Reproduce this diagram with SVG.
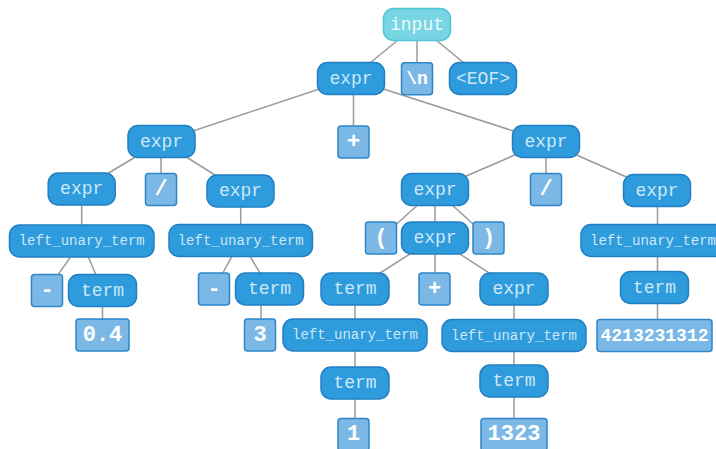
<svg xmlns="http://www.w3.org/2000/svg" width="716" height="449" viewBox="0 0 716 449">
  <style>
    .edge { stroke: #9a9a9a; stroke-width: 1.5; fill: none; }
    .rule rect { fill: #2e9cdc; stroke: #2280c2; stroke-width: 1.5; }
    .rule text { fill: #cde7f7; font-family: "Liberation Mono", "Courier New", monospace; font-size: 18px; text-anchor: middle; dominant-baseline: central; }
    .rule text.small { font-size: 14px; }
    .root rect { fill: #78d5e3; stroke: #52c5d8; }
    .root text { fill: #eefafc; }
    .tok rect { fill: #7cb8e6; stroke: #2c86c9; stroke-width: 1.5; }
    .tok text { fill: #ffffff; font-family: "Liberation Mono", "Courier New", monospace; font-weight: bold; font-size: 22px; text-anchor: middle; dominant-baseline: central; }
    .tok text.mid { font-size: 18px; }
  </style>

  <!-- connectors run between node centres and sit under the nodes -->
  <g id="edges">
    <line class="edge" x1="417" y1="24.5" x2="351" y2="78.5"/>
    <line class="edge" x1="417" y1="24.5" x2="417" y2="78.8"/>
    <line class="edge" x1="417" y1="24.5" x2="483" y2="78.5"/>

    <line class="edge" x1="351" y1="78.5" x2="161.5" y2="141.5"/>
    <line class="edge" x1="353.5" y1="78.5" x2="353.5" y2="142"/>
    <line class="edge" x1="351" y1="78.5" x2="546" y2="141.5"/>

    <line class="edge" x1="161.5" y1="141.5" x2="81.7" y2="189"/>
    <line class="edge" x1="161" y1="141.5" x2="161" y2="189.5"/>
    <line class="edge" x1="161.5" y1="141.5" x2="240.5" y2="191"/>

    <line class="edge" x1="81.7" y1="189" x2="81.7" y2="241"/>
    <line class="edge" x1="81.7" y1="241" x2="47" y2="290.5"/>
    <line class="edge" x1="81.7" y1="241" x2="102.5" y2="290.5"/>
    <line class="edge" x1="102.5" y1="290.5" x2="102.5" y2="335"/>

    <line class="edge" x1="240.7" y1="191" x2="240.7" y2="240.5"/>
    <line class="edge" x1="240.7" y1="240.5" x2="214" y2="289"/>
    <line class="edge" x1="240.7" y1="240.5" x2="269.5" y2="289"/>
    <line class="edge" x1="261" y1="289" x2="261" y2="335"/>

    <line class="edge" x1="546" y1="141.5" x2="435" y2="189.5"/>
    <line class="edge" x1="546" y1="141.5" x2="546" y2="189.5"/>
    <line class="edge" x1="546" y1="141.5" x2="657" y2="190.5"/>

    <line class="edge" x1="435" y1="189.5" x2="381" y2="238"/>
    <line class="edge" x1="435" y1="189.5" x2="435" y2="238"/>
    <line class="edge" x1="435" y1="189.5" x2="488.5" y2="238"/>

    <line class="edge" x1="435" y1="238" x2="355" y2="289"/>
    <line class="edge" x1="435" y1="238" x2="435" y2="289"/>
    <line class="edge" x1="435" y1="238" x2="514" y2="289"/>

    <line class="edge" x1="355" y1="289" x2="355" y2="434"/>
    <line class="edge" x1="514" y1="289" x2="514" y2="434"/>
    <line class="edge" x1="657.5" y1="190.5" x2="657.5" y2="335.5"/>
  </g>

  <!-- level 0 -->
  <g id="n-input" class="rule root"><rect x="383.5" y="8.5" width="67" height="32" rx="10"/><text x="417" y="24.5">input</text></g>

  <!-- level 1 -->
  <g id="n-expr0" class="rule"><rect x="317.5" y="62.5" width="67" height="32" rx="10"/><text x="351" y="78.5">expr</text></g>
  <g id="n-newline" class="tok"><rect x="401.5" y="62.8" width="31" height="32" rx="3"/><text class="mid" x="417" y="78.8">\n</text></g>
  <g id="n-eof" class="rule"><rect x="449.5" y="62.5" width="67" height="32" rx="10"/><text x="483" y="78.5">&lt;EOF&gt;</text></g>

  <!-- level 2 -->
  <g id="n-expr-l1" class="rule"><rect x="128" y="125.5" width="67" height="32" rx="10"/><text x="161.5" y="141.5">expr</text></g>
  <g id="n-plus1" class="tok"><rect x="338" y="126" width="31" height="32" rx="3"/><text x="353.5" y="142">+</text></g>
  <g id="n-expr-r1" class="rule"><rect x="512.5" y="125.5" width="67" height="32" rx="10"/><text x="546" y="141.5">expr</text></g>

  <!-- level 3 -->
  <g id="n-expr-l2a" class="rule"><rect x="48.2" y="173" width="67" height="32" rx="10"/><text x="81.7" y="189">expr</text></g>
  <g id="n-div1" class="tok"><rect x="145.5" y="173.5" width="31" height="32" rx="3"/><text x="161" y="189.5">/</text></g>
  <g id="n-expr-l2b" class="rule"><rect x="207" y="175" width="67" height="32" rx="10"/><text x="240.5" y="191">expr</text></g>
  <g id="n-expr-m2" class="rule"><rect x="401.5" y="173.5" width="67" height="32" rx="10"/><text x="435" y="189.5">expr</text></g>
  <g id="n-div2" class="tok"><rect x="530.5" y="173.5" width="31" height="32" rx="3"/><text x="546" y="189.5">/</text></g>
  <g id="n-expr-r2" class="rule"><rect x="623.5" y="174.5" width="67" height="32" rx="10"/><text x="657" y="190.5">expr</text></g>

  <!-- level 4 -->
  <g id="n-lut-l3a" class="rule"><rect x="9.5" y="225" width="144.5" height="32" rx="10"/><text class="small" x="81.7" y="241">left_unary_term</text></g>
  <g id="n-lut-l3b" class="rule"><rect x="169" y="224.5" width="143.5" height="32" rx="10"/><text class="small" x="240.7" y="240.5">left_unary_term</text></g>
  <g id="n-lparen" class="tok"><rect x="365.5" y="222" width="31" height="32" rx="3"/><text x="381" y="238">(</text></g>
  <g id="n-expr-m3" class="rule"><rect x="401.5" y="222" width="67" height="32" rx="10"/><text x="435" y="238">expr</text></g>
  <g id="n-rparen" class="tok"><rect x="473" y="222" width="31" height="32" rx="3"/><text x="488.5" y="238">)</text></g>
  <g id="n-lut-r3" class="rule"><rect x="581" y="224.5" width="144.5" height="32" rx="10"/><text class="small" x="653" y="240.5">left_unary_term</text></g>

  <!-- level 5 -->
  <g id="n-minus1" class="tok"><rect x="31.5" y="274.5" width="31" height="32" rx="3"/><text x="47" y="290.5">-</text></g>
  <g id="n-term-a" class="rule"><rect x="68.5" y="274.5" width="68" height="32" rx="10"/><text x="102.5" y="290.5">term</text></g>
  <g id="n-minus2" class="tok"><rect x="198.5" y="273" width="31" height="32" rx="3"/><text x="214" y="289">-</text></g>
  <g id="n-term-b" class="rule"><rect x="235.5" y="273" width="68" height="32" rx="10"/><text x="269.5" y="289">term</text></g>
  <g id="n-term-m4a" class="rule"><rect x="321" y="273" width="68" height="32" rx="10"/><text x="355" y="289">term</text></g>
  <g id="n-plus2" class="tok"><rect x="419" y="273" width="31" height="32" rx="3"/><text x="434.5" y="289">+</text></g>
  <g id="n-expr-m4c" class="rule"><rect x="480" y="273" width="68" height="32" rx="10"/><text x="514" y="289">expr</text></g>
  <g id="n-term-r4" class="rule"><rect x="620.5" y="271.5" width="68" height="32" rx="10"/><text x="654.5" y="287.5">term</text></g>

  <!-- level 6 -->
  <g id="n-num-04" class="tok"><rect x="76" y="319" width="53" height="32" rx="3"/><text x="102.5" y="335">0.4</text></g>
  <g id="n-num-3" class="tok"><rect x="244.5" y="319" width="31" height="32" rx="3"/><text x="260" y="335">3</text></g>
  <g id="n-lut-m5a" class="rule"><rect x="283" y="319" width="144" height="32" rx="10"/><text class="small" x="355" y="335">left_unary_term</text></g>
  <g id="n-lut-m5c" class="rule"><rect x="442" y="319.5" width="144" height="32" rx="10"/><text class="small" x="514" y="335.5">left_unary_term</text></g>
  <g id="n-num-big" class="tok"><rect x="597" y="319.5" width="115" height="32" rx="3"/><text class="mid" x="654.5" y="335.5">4213231312</text></g>

  <!-- level 7 -->
  <g id="n-term-m6a" class="rule"><rect x="321" y="367" width="68" height="32" rx="10"/><text x="355" y="383">term</text></g>
  <g id="n-term-m6c" class="rule"><rect x="480" y="365" width="68" height="32" rx="10"/><text x="514" y="381">term</text></g>

  <!-- level 8 -->
  <g id="n-num-1" class="tok"><rect x="338" y="418.5" width="31" height="32" rx="3"/><text x="353.5" y="434.5">1</text></g>
  <g id="n-num-1323" class="tok"><rect x="481" y="418.5" width="66" height="32" rx="3"/><text x="514" y="434.5">1323</text></g>
</svg>
